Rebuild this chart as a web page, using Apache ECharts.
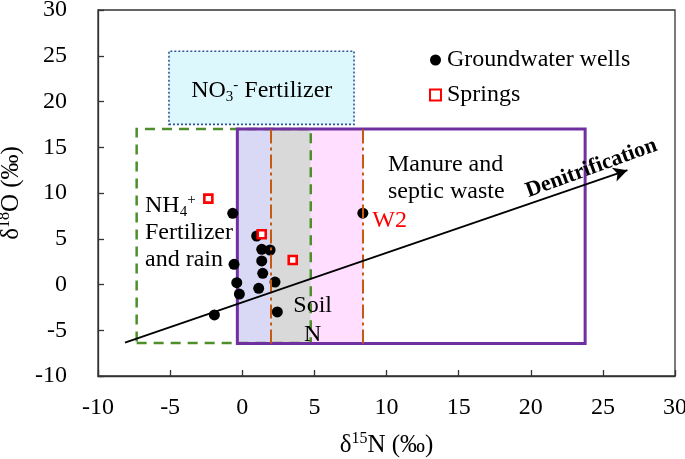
<!DOCTYPE html>
<html><head><meta charset="utf-8">
<script src="https://cdn.jsdelivr.net/npm/echarts@6/dist/echarts.min.js"></script>
<style>html,body{margin:0;padding:0;background:#fff}#c{width:685px;height:459px}</style>
</head><body><div id="c"></div>
<script>
// ---- data ----
const wellsX = [-0.66, 1.0, 1.35, 1.93, -0.57, 1.35, 1.42, -0.38, 2.27, 1.14, -0.2, -1.93, 2.43, 8.36];
const wellsY = [7.78, 5.3, 3.85, 3.77, 2.2, 2.57, 1.22, 0.2, 0.27, -0.42, -1.04, -3.33, -3.0, 7.8];
const wellNames = ['', '', '', '', '', '', '', '', '', '', '', '', '', 'W2'];
const springsX = [-2.35, 1.35, 3.5];
const springsY = [9.38, 5.49, 2.68];
const xTicks = [-10, -5, 0, 5, 10, 15, 20, 25, 30];
const yTicks = [-10, -5, 0, 5, 10, 15, 20, 25, 30];
// source regions [x1, y1, x2, y2]
const boxNO3 = [-5.08, 17.5, 7.75, 25.5];
const boxNH4 = [-7.32, -6.4, 4.75, 17.0];
const boxManure = [-0.34, -6.45, 23.77, 17.0];
const bandLow = [-0.34, -6.45, 1.98, 17.0];
const bandSoil = [1.98, -6.45, 4.75, 17.0];
const bandMid = [4.75, -6.45, 8.36, 17.0];
const dashDotX = [1.98, 8.36];
const dashDotY = [-6.45, 17.0];
const arrowFrom = [-8.13, -6.36];
const arrowTo = [26.7, 12.5];
// annotation anchors
const lblNH4 = [-6.74, 5.63];
const lblSoil = [4.88, -3.93];
const lblManure = [10.1, 11.64];
const lblNO3 = [1.35, 21.15];
const lblDen = [24.2, 12.7];

const FONT = 'Liberation Serif';
const area = (b, style) => [{ coord: [b[0], b[1]], itemStyle: style }, { coord: [b[2], b[3]] }];
const titleRich = {
  t: { fontFamily: FONT, fontSize: 25, color: '#000', lineHeight: 27, verticalAlign: 'bottom' },
  s: { fontFamily: FONT, fontSize: 16, color: '#000', lineHeight: 27, verticalAlign: 'top' }
};

const chart = echarts.init(document.getElementById('c'));
chart.setOption({
  animation: false,
  backgroundColor: '#fff',
  textStyle: { fontFamily: FONT },
  grid: { left: 98, right: 10, top: 10, bottom: 83, containLabel: false, outerBoundsMode: 'none',
          show: true, borderColor: '#333', borderWidth: 1.3, backgroundColor: 'transparent' },
  legend: {
    data: ['Groundwater wells', 'Springs'],
    orient: 'vertical', left: 424, top: 43, itemGap: 11,
    itemWidth: 11, itemHeight: 11,
    textStyle: { fontFamily: FONT, fontSize: 24, color: '#000', padding: [0, 0, 0, 1] }
  },
  xAxis: {
    type: 'value', min: xTicks[0], max: xTicks[xTicks.length - 1], interval: 5,
    splitLine: { show: false },
    axisLine: { onZero: false, lineStyle: { color: '#333', width: 1.3 } },
    axisTick: { inside: true, length: 6, lineStyle: { color: '#333', width: 1.3 } },
    axisLabel: { fontFamily: FONT, fontSize: 24, color: '#000', margin: 20 },
    name: '{t|δ}{s|15}{t|N (‰)}', nameLocation: 'middle', nameGap: 55,
    nameTextStyle: { rich: titleRich }
  },
  yAxis: {
    type: 'value', min: yTicks[0], max: yTicks[yTicks.length - 1], interval: 5,
    splitLine: { show: false },
    axisLine: { onZero: false, lineStyle: { color: '#333', width: 1.3 } },
    axisTick: { inside: true, length: 6, lineStyle: { color: '#333', width: 1.3 } },
    axisLabel: { fontFamily: FONT, fontSize: 24, color: '#000', margin: 31 },
    name: '{t|δ}{s|18}{t|O (‰)}', nameLocation: 'middle', nameGap: 64, nameRotate: 90,
    nameTextStyle: { rich: titleRich }
  },
  series: [
    {
      name: 'regions', type: 'scatter', data: [], z: 1, silent: true,
      markArea: {
        silent: true,
        label: { show: false },
        data: [
          area(bandLow, { color: '#D9D9F6', opacity: 1 }),
          area(bandSoil, { color: '#D9D9D9', opacity: 1 }),
          area(bandMid, { color: '#FFDEFF', opacity: 1 }),
          area(boxNO3, { color: '#DDF8FC', opacity: 1, borderColor: '#2F5597', borderWidth: 1.6, borderType: [2, 2] })
        ]
      }
    },
    {
      name: 'frames', type: 'scatter', data: [], z: 2, silent: true,
      markArea: {
        silent: true,
        label: { show: false },
        data: [
          area(boxNH4, { color: 'rgba(0,0,0,0)', opacity: 1, borderColor: '#4E8F2C', borderWidth: 2.5, borderType: [10, 7] }),
          area(boxManure, { color: 'rgba(0,0,0,0)', opacity: 1, borderColor: '#7030A0', borderWidth: 3 })
        ]
      }
    },
    {
      name: 'Groundwater wells', type: 'scatter', z: 3,
      symbol: 'circle', symbolSize: 11,
      itemStyle: { color: '#000', opacity: 1 },
      data: wellsX.map((x, i) => ({ value: [x, wellsY[i]], name: wellNames[i] })),
      label: {
        show: true, position: 'right', distance: 4,
        formatter: p => p.name, fontFamily: FONT, fontSize: 24, color: '#FF0000', offset: [0, 8]
      }
    },
    {
      name: 'Springs', type: 'scatter', z: 3,
      symbol: 'rect', symbolSize: 8,
      itemStyle: { color: '#fff', opacity: 1, borderColor: '#FF0000', borderWidth: 2.6 },
      data: springsX.map((x, i) => [x, springsY[i]])
    },
    {
      name: 'lines', type: 'scatter', data: [], z: 4, silent: true,
      markLine: {
        silent: true, symbol: 'none', label: { show: false },
        lineStyle: { color: '#C55A11', width: 2, type: [14, 4, 3, 4], opacity: 1 },
        data: dashDotX.map(x => [{ coord: [x, dashDotY[0]] }, { coord: [x, dashDotY[1]] }])
          .concat([[{ coord: arrowFrom, symbol: 'none', lineStyle: { color: '#000', width: 1.8, type: 'solid' } },
                    { coord: arrowTo, symbol: 'arrow', symbolSize: [11, 14] }]])
      },
      markPoint: {
        silent: true, symbol: 'circle', symbolSize: 0,
        data: [
          { coord: lblNH4, label: { show: true, position: 'inside', align: 'left', verticalAlign: 'middle',
              formatter: '{t|NH}{sb|4}{sp|+}\n{t|Fertilizer}\n{t|and rain}',
              rich: { t: { fontFamily: FONT, fontSize: 24, color: '#000', lineHeight: 27, verticalAlign: 'middle' },
                      sb: { fontFamily: FONT, fontSize: 15, color: '#000', lineHeight: 27, verticalAlign: 'bottom' },
                      sp: { fontFamily: FONT, fontSize: 15, color: '#000', lineHeight: 27, verticalAlign: 'top' } } } },
          { coord: lblSoil, label: { show: true, position: 'inside', align: 'center', verticalAlign: 'middle',
              formatter: 'Soil\nN', fontFamily: FONT, fontSize: 24, color: '#000', lineHeight: 29 } },
          { coord: lblManure, label: { show: true, position: 'inside', align: 'left', verticalAlign: 'middle',
              formatter: 'Manure and\nseptic waste', fontFamily: FONT, fontSize: 24, color: '#000', lineHeight: 27 } },
          { coord: lblNO3, label: { show: true, position: 'inside', align: 'center', verticalAlign: 'middle',
              formatter: '{t|NO}{sb|3}{sp|-}{t| Fertilizer}',
              rich: { t: { fontFamily: FONT, fontSize: 24, color: '#000', lineHeight: 27, verticalAlign: 'middle' },
                      sb: { fontFamily: FONT, fontSize: 15, color: '#000', lineHeight: 27, verticalAlign: 'bottom' },
                      sp: { fontFamily: FONT, fontSize: 15, color: '#000', lineHeight: 27, verticalAlign: 'top' } } } },
          { coord: lblDen, label: { show: true, position: 'inside', align: 'center', verticalAlign: 'middle', rotate: 20,
              formatter: 'Denitrification', fontFamily: FONT, fontSize: 22, fontWeight: 'bold', color: '#000' } }
        ]
      }
    }
  ]
});
</script></body></html>
